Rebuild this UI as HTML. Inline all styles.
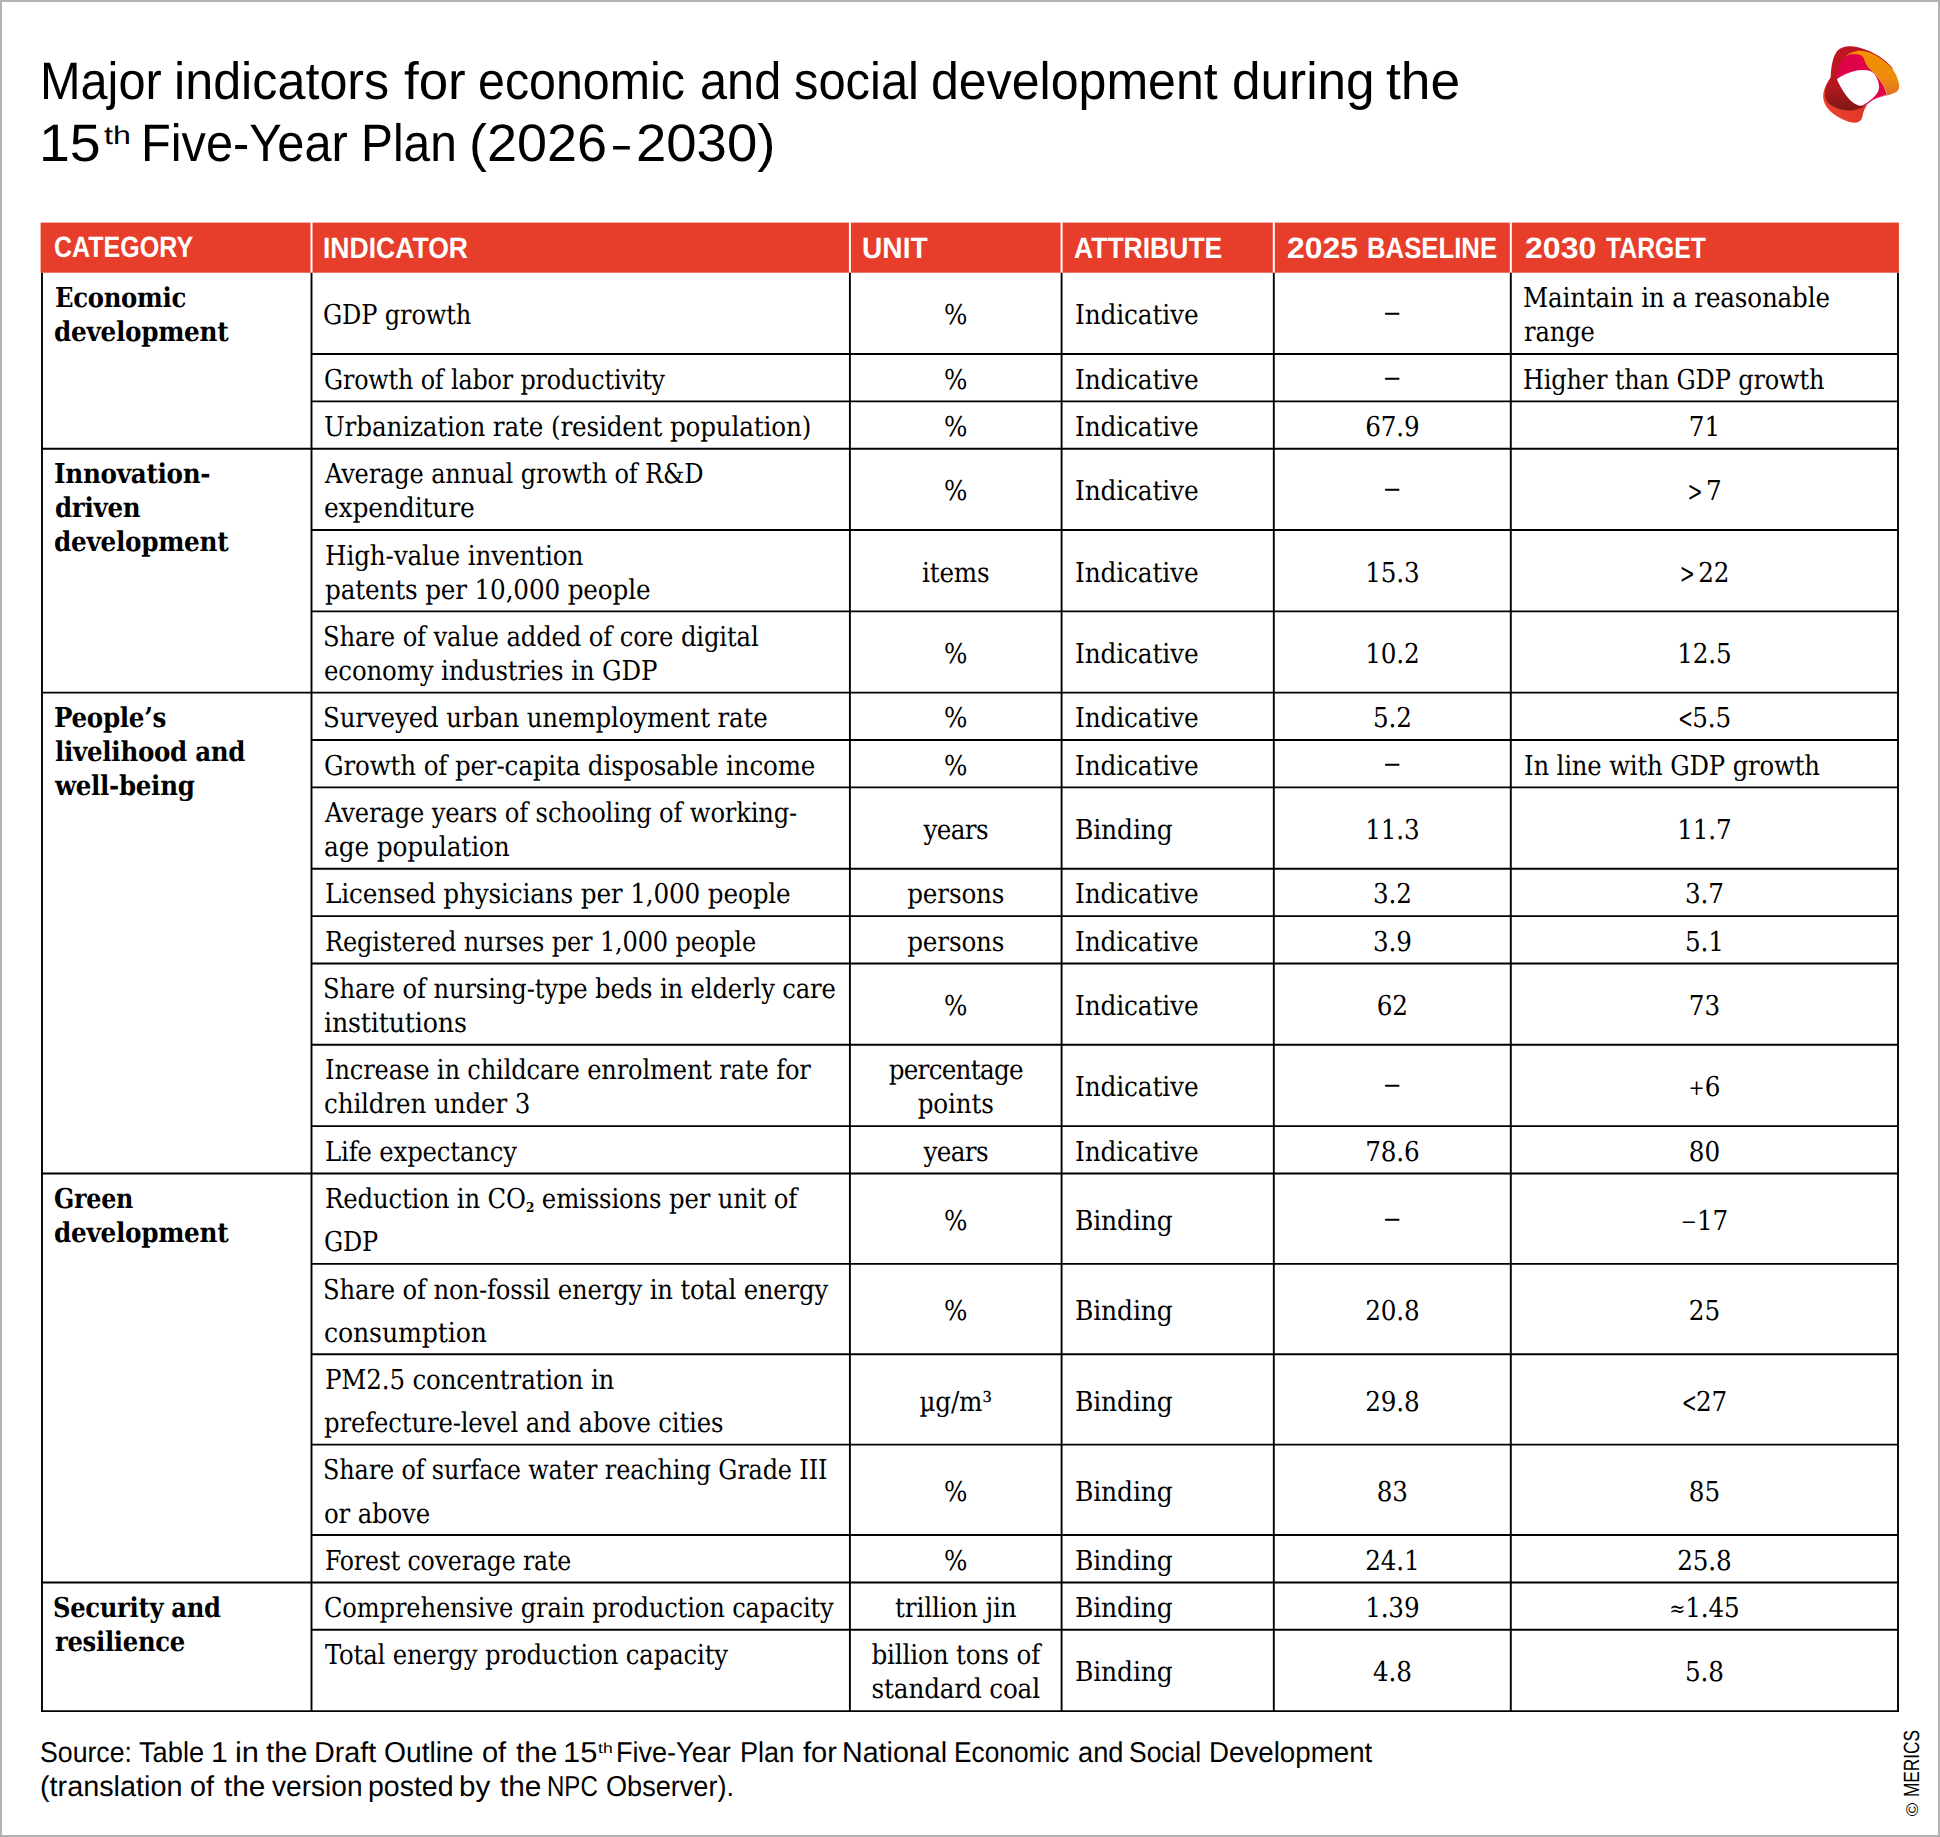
<!DOCTYPE html>
<html lang="en"><head><meta charset="utf-8">
<title>Major indicators for economic and social development during the 15th Five-Year Plan (2026–2030)</title>
<style>
html,body{margin:0;padding:0;background:#fff}
body{width:1940px;height:1837px;position:relative;overflow:hidden;text-rendering:geometricPrecision}
#frame{position:absolute;left:0;top:0;width:1940px;height:1837px;box-sizing:border-box;border:2px solid #b2b2b2}
#lines{position:absolute;left:0;top:0}

.t{position:absolute;white-space:nowrap;font-family:"DejaVu Serif Condensed","DejaVu Serif","Liberation Serif",serif;font-size:27.4px;font-stretch:condensed;line-height:0;letter-spacing:-0.14px;color:#000}
.t{transform-origin:0 0}
.t.c{transform:translateX(-50%)}
.t.b{font-weight:bold;letter-spacing:-0.3px}
.t sub{font-size:13.5px;font-weight:bold;vertical-align:baseline;position:relative;top:4.1px;line-height:0;letter-spacing:0}
.t .sm{font-size:21.5px;position:relative;top:-1.3px}
.t .sg,.t .sl{font-size:21.5px;position:relative;top:-1.2px;display:inline-block;transform:scale(0.93,1.3)}
.t .sg{margin-right:2.5px}
.t .sl{margin-right:-1.7px}
.t .d{display:inline-block;position:relative;top:-2.8px;transform:scaleX(1.4)}
.w{position:absolute;white-space:nowrap;font-family:"Liberation Sans","DejaVu Sans",sans-serif;font-weight:normal;line-height:0;color:#000;transform-origin:0 0}
.w.h{font-weight:bold;font-size:29.4px;color:#fff}
.w.ti{font-size:52.6px}
.w.tis{font-size:25.51px}
.w.s{font-size:28.8px}
.w.ss{font-size:14.40px}

#cr{position:absolute;left:1911.97px;top:1815.6px;white-space:nowrap;font-family:"Liberation Sans","DejaVu Sans",sans-serif;font-size:22.0px;line-height:0;color:#000;transform:rotate(-90deg) scaleX(0.785);transform-origin:0 0}
#cr span{font-size:77%;display:inline-block;transform:scaleX(1.37);margin:0 3.5px 0 2px;position:relative;top:-1px}
#logo{position:absolute;left:1800px;top:30px}
</style></head><body>
<div id="frame"></div>
<svg id="logo" width="120" height="110" viewBox="0 0 1940 1778" role="img" aria-label="MERICS logo">
<defs>
<linearGradient id="gO" x1="0" y1="0" x2="0" y2="1"><stop offset="0" stop-color="#f39200"/><stop offset="0.6" stop-color="#ee8a0c"/><stop offset="1" stop-color="#dd6a2c"/></linearGradient>
<linearGradient id="gD" x1="0" y1="0" x2="0" y2="1"><stop offset="0" stop-color="#bd1722"/><stop offset="0.45" stop-color="#b0181f"/><stop offset="1" stop-color="#7d1714"/></linearGradient>
<linearGradient id="gR" x1="0" y1="0" x2="1" y2="0"><stop offset="0" stop-color="#e8412a"/><stop offset="0.7" stop-color="#e43b29"/><stop offset="1" stop-color="#d62f26"/></linearGradient>
</defs>
<path fill="#be1723" d="M495,770 C505,600 520,450 600,340 C660,275 760,258 830,262 C930,268 1030,300 1130,345 C1260,405 1400,500 1500,620 L1400,760 L900,560 L640,720 L600,800 Z"/>
<path fill="#e0034a" d="M597,792 C598,650 650,480 780,405 C850,372 960,385 1010,425 C1050,470 1040,540 1110,610 C1180,670 1260,760 1330,870 C1370,940 1392,1000 1402,1040 C1340,1078 1250,1095 1180,1130 C1130,1160 1095,1195 1045,1232 L1000,1222 L700,900 Z"/>
<path fill="url(#gO)" d="M722,440 C760,395 830,350 920,338 C1000,330 1080,345 1160,378 C1260,420 1380,505 1470,600 C1540,680 1590,790 1605,900 C1608,950 1580,990 1540,1012 C1480,1045 1400,1062 1340,1076 C1300,1086 1270,1092 1240,1100 C1300,1085 1370,1062 1405,1040 C1395,990 1365,930 1330,870 C1280,790 1220,710 1150,650 C1090,600 1055,545 1040,480 C1030,440 1000,410 950,395 C890,380 830,385 780,405 C755,415 738,428 722,440 Z"/>
<path fill="url(#gR)" d="M495,770 C440,840 395,930 378,1020 C365,1100 385,1180 430,1245 C490,1330 580,1390 670,1435 C740,1468 810,1495 870,1500 C930,1502 975,1480 995,1440 C1012,1400 1015,1350 1035,1300 C1050,1265 1070,1235 1092,1210 C1075,1220 1060,1226 1045,1232 L900,1150 L560,950 Z"/>
<path fill="url(#gD)" d="M495,770 C450,830 410,920 402,1010 C395,1090 420,1150 480,1200 C560,1262 690,1298 800,1300 C880,1300 970,1270 1045,1232 L1000,1222 C960,1225 920,1215 880,1190 C820,1150 770,1090 730,1030 C680,955 630,870 597,792 C590,740 592,700 600,660 L540,650 Z"/>
<path fill="#fff" d="M597,792 C680,735 780,690 880,662 C960,642 1060,640 1140,662 C1200,690 1235,750 1260,820 C1280,880 1285,940 1265,990 C1240,1045 1190,1095 1130,1140 C1090,1170 1050,1200 1000,1222 C960,1228 920,1215 880,1190 C820,1150 770,1090 730,1030 C680,955 630,870 597,792 Z"/>
</svg>

<svg id="lines" width="1940" height="1837" viewBox="0 0 1940 1837">
<rect x="40.6" y="222.6" width="1858.30" height="50.10" fill="#e73e2b"/>
<line x1="311.50" y1="222.10" x2="311.50" y2="272.70" stroke="#fff" stroke-width="2.0"/>
<line x1="849.90" y1="222.10" x2="849.90" y2="272.70" stroke="#fff" stroke-width="2.0"/>
<line x1="1061.60" y1="222.10" x2="1061.60" y2="272.70" stroke="#fff" stroke-width="2.0"/>
<line x1="1273.80" y1="222.10" x2="1273.80" y2="272.70" stroke="#fff" stroke-width="2.0"/>
<line x1="1510.80" y1="222.10" x2="1510.80" y2="272.70" stroke="#fff" stroke-width="2.0"/>
<line x1="42.00" y1="272.70" x2="42.00" y2="1712.07" stroke="#000" stroke-width="1.9"/>
<line x1="311.50" y1="272.70" x2="311.50" y2="1712.07" stroke="#000" stroke-width="1.9"/>
<line x1="849.90" y1="272.70" x2="849.90" y2="1712.07" stroke="#000" stroke-width="1.9"/>
<line x1="1061.60" y1="272.70" x2="1061.60" y2="1712.07" stroke="#000" stroke-width="1.9"/>
<line x1="1273.80" y1="272.70" x2="1273.80" y2="1712.07" stroke="#000" stroke-width="1.9"/>
<line x1="1510.80" y1="272.70" x2="1510.80" y2="1712.07" stroke="#000" stroke-width="1.9"/>
<line x1="1898.00" y1="272.70" x2="1898.00" y2="1712.07" stroke="#000" stroke-width="1.9"/>
<line x1="311.50" y1="354.00" x2="1898.00" y2="354.00" stroke="#000" stroke-width="1.9"/>
<line x1="311.50" y1="401.38" x2="1898.00" y2="401.38" stroke="#000" stroke-width="1.9"/>
<line x1="41.05" y1="448.76" x2="1898.95" y2="448.76" stroke="#000" stroke-width="1.9"/>
<line x1="311.50" y1="530.06" x2="1898.00" y2="530.06" stroke="#000" stroke-width="1.9"/>
<line x1="311.50" y1="611.36" x2="1898.00" y2="611.36" stroke="#000" stroke-width="1.9"/>
<line x1="41.05" y1="692.66" x2="1898.95" y2="692.66" stroke="#000" stroke-width="1.9"/>
<line x1="311.50" y1="740.04" x2="1898.00" y2="740.04" stroke="#000" stroke-width="1.9"/>
<line x1="311.50" y1="787.42" x2="1898.00" y2="787.42" stroke="#000" stroke-width="1.9"/>
<line x1="311.50" y1="868.72" x2="1898.00" y2="868.72" stroke="#000" stroke-width="1.9"/>
<line x1="311.50" y1="916.10" x2="1898.00" y2="916.10" stroke="#000" stroke-width="1.9"/>
<line x1="311.50" y1="963.48" x2="1898.00" y2="963.48" stroke="#000" stroke-width="1.9"/>
<line x1="311.50" y1="1044.78" x2="1898.00" y2="1044.78" stroke="#000" stroke-width="1.9"/>
<line x1="311.50" y1="1126.08" x2="1898.00" y2="1126.08" stroke="#000" stroke-width="1.9"/>
<line x1="41.05" y1="1173.46" x2="1898.95" y2="1173.46" stroke="#000" stroke-width="1.9"/>
<line x1="311.50" y1="1263.86" x2="1898.00" y2="1263.86" stroke="#000" stroke-width="1.9"/>
<line x1="311.50" y1="1354.26" x2="1898.00" y2="1354.26" stroke="#000" stroke-width="1.9"/>
<line x1="311.50" y1="1444.66" x2="1898.00" y2="1444.66" stroke="#000" stroke-width="1.9"/>
<line x1="311.50" y1="1535.06" x2="1898.00" y2="1535.06" stroke="#000" stroke-width="1.9"/>
<line x1="41.05" y1="1582.44" x2="1898.95" y2="1582.44" stroke="#000" stroke-width="1.9"/>
<line x1="311.50" y1="1629.82" x2="1898.00" y2="1629.82" stroke="#000" stroke-width="1.9"/>
<line x1="41.05" y1="1711.12" x2="1898.95" y2="1711.12" stroke="#000" stroke-width="1.9"/>
</svg>
<h1 style="margin:0;font-size:0;line-height:0"><span class="w ti" style="left:40.04px;top:82px;transform:scaleX(0.9253)">Major</span>
<span class="w ti" style="left:174.39px;top:82px;transform:scaleX(0.9563)">indicators</span>
<span class="w ti" style="left:404.25px;top:82px;transform:scaleX(1.0057)">for</span>
<span class="w ti" style="left:478.07px;top:82px;transform:scaleX(0.9189)">economic</span>
<span class="w ti" style="left:699.62px;top:82px;transform:scaleX(0.9253)">and</span>
<span class="w ti" style="left:793.55px;top:82px;transform:scaleX(0.9292)">social</span>
<span class="w ti" style="left:930.74px;top:82px;transform:scaleX(0.9520)">development</span>
<span class="w ti" style="left:1232.09px;top:82px;transform:scaleX(0.9753)">during</span>
<span class="w ti" style="left:1386.36px;top:82px;transform:scaleX(1.0150)">the</span>
<span class="w ti" style="left:38.84px;top:144px;transform:scaleX(1.0545)">15</span>
<span class="w tis" style="left:103.86px;top:136px;transform:scaleX(1.2605)">th</span>
<span class="w ti" style="left:140.99px;top:144px;transform:scaleX(0.9266)">Five-Year</span>
<span class="w ti" style="left:361.06px;top:144px;transform:scaleX(0.9106)">Plan</span>
<span class="w ti" style="left:469.15px;top:144px;transform:scaleX(1.0258)">(2026</span>
<span class="w ti" style="left:613.24px;top:144px;transform:scaleX(0.5743)">–</span>
<span class="w ti" style="left:636.05px;top:144px;transform:scaleX(1.0360)">2030)</span></h1>
<div style="font-size:0;line-height:0"><span class="w h" style="left:54.16px;top:248px;transform:scaleX(0.8519)">CATEGORY</span>
<span class="w h" style="left:323.14px;top:249px;transform:scaleX(0.9028)">INDICATOR</span>
<span class="w h" style="left:862.15px;top:249px;transform:scaleX(0.9572)">UNIT</span>
<span class="w h" style="left:1074.37px;top:249px;transform:scaleX(0.9023)">ATTRIBUTE</span>
<span class="w h" style="left:1287.32px;top:249px;transform:scaleX(1.0842)">2025</span>
<span class="w h" style="left:1366.76px;top:249px;transform:scaleX(0.8756)">BASELINE</span>
<span class="w h" style="left:1524.85px;top:249px;transform:scaleX(1.0910)">2030</span>
<span class="w h" style="left:1606.13px;top:249px;transform:scaleX(0.8427)">TARGET</span></div>
<div class="t c" style="left:955.75px;top:316px">%</div>
<div class="t c" style="left:1392.30px;top:316px"><span class="d">–</span></div>
<div class="t c" style="left:955.75px;top:381px">%</div>
<div class="t c" style="left:1392.30px;top:381px"><span class="d">–</span></div>
<div class="t c" style="left:955.75px;top:428px">%</div>
<div class="t c" style="left:1392.30px;top:428px">67.9</div>
<div class="t c" style="left:1704.40px;top:428px">71</div>
<div class="t c" style="left:955.75px;top:492px">%</div>
<div class="t c" style="left:1392.30px;top:492px"><span class="d">–</span></div>
<div class="t c" style="left:1704.40px;top:492px"><span class="sg">&gt;</span>7</div>
<div class="t c" style="left:955.75px;top:574px">items</div>
<div class="t c" style="left:1392.30px;top:574px">15.3</div>
<div class="t c" style="left:1704.40px;top:574px"><span class="sg">&gt;</span>22</div>
<div class="t c" style="left:955.75px;top:655px">%</div>
<div class="t c" style="left:1392.30px;top:655px">10.2</div>
<div class="t c" style="left:1704.40px;top:655px">12.5</div>
<div class="t c" style="left:955.75px;top:719px">%</div>
<div class="t c" style="left:1392.30px;top:719px">5.2</div>
<div class="t c" style="left:1704.40px;top:719px"><span class="sl">&lt;</span>5.5</div>
<div class="t c" style="left:955.75px;top:767px">%</div>
<div class="t c" style="left:1392.30px;top:767px"><span class="d">–</span></div>
<div class="t c" style="left:955.75px;top:831px"><span style="letter-spacing:-0.6px">years</span></div>
<div class="t c" style="left:1392.30px;top:831px">11.3</div>
<div class="t c" style="left:1704.40px;top:831px">11.7</div>
<div class="t c" style="left:955.75px;top:895px">persons</div>
<div class="t c" style="left:1392.30px;top:895px">3.2</div>
<div class="t c" style="left:1704.40px;top:895px">3.7</div>
<div class="t c" style="left:955.75px;top:943px">persons</div>
<div class="t c" style="left:1392.30px;top:943px">3.9</div>
<div class="t c" style="left:1704.40px;top:943px">5.1</div>
<div class="t c" style="left:955.75px;top:1007px">%</div>
<div class="t c" style="left:1392.30px;top:1007px">62</div>
<div class="t c" style="left:1704.40px;top:1007px">73</div>
<div class="t c" style="left:955.75px;top:1071px"><span style="letter-spacing:-0.72px">percentage</span></div>
<div class="t c" style="left:955.75px;top:1105px">points</div>
<div class="t c" style="left:1392.30px;top:1088px"><span class="d">–</span></div>
<div class="t c" style="left:1704.40px;top:1088px"><span class="sm">+</span>6</div>
<div class="t c" style="left:955.75px;top:1153px"><span style="letter-spacing:-0.6px">years</span></div>
<div class="t c" style="left:1392.30px;top:1153px">78.6</div>
<div class="t c" style="left:1704.40px;top:1153px">80</div>
<div class="t c" style="left:955.75px;top:1222px">%</div>
<div class="t c" style="left:1392.30px;top:1222px"><span class="d">–</span></div>
<div class="t c" style="left:1704.40px;top:1222px"><span class="sm">−</span>17</div>
<div class="t c" style="left:955.75px;top:1312px">%</div>
<div class="t c" style="left:1392.30px;top:1312px">20.8</div>
<div class="t c" style="left:1704.40px;top:1312px">25</div>
<div class="t c" style="left:955.75px;top:1403px">µg/m³</div>
<div class="t c" style="left:1392.30px;top:1403px">29.8</div>
<div class="t c" style="left:1704.40px;top:1403px"><span class="sl">&lt;</span>27</div>
<div class="t c" style="left:955.75px;top:1493px">%</div>
<div class="t c" style="left:1392.30px;top:1493px">83</div>
<div class="t c" style="left:1704.40px;top:1493px">85</div>
<div class="t c" style="left:955.75px;top:1562px">%</div>
<div class="t c" style="left:1392.30px;top:1562px">24.1</div>
<div class="t c" style="left:1704.40px;top:1562px">25.8</div>
<div class="t c" style="left:955.75px;top:1609px">trillion jin</div>
<div class="t c" style="left:1392.30px;top:1609px">1.39</div>
<div class="t c" style="left:1704.40px;top:1609px"><span class="sm">≈</span>1.45</div>
<div class="t c" style="left:955.75px;top:1656px">billion tons of</div>
<div class="t c" style="left:955.75px;top:1690px">standard coal</div>
<div class="t c" style="left:1392.30px;top:1673px">4.8</div>
<div class="t c" style="left:1704.40px;top:1673px">5.8</div>
<div class="t" style="left:323.45px;top:316px;transform:scaleX(0.9763)">GDP growth</div>
<div class="t" style="left:1074.70px;top:316px;transform:scaleX(1.0065)">Indicative</div>
<div class="t" style="left:1522.67px;top:299px;transform:scaleX(0.9965)">Maintain in a reasonable</div>
<div class="t" style="left:1523.51px;top:333px;transform:scaleX(0.9813)">range</div>
<div class="t" style="left:323.53px;top:381px;transform:scaleX(0.9662)">Growth of labor productivity</div>
<div class="t" style="left:1074.70px;top:381px;transform:scaleX(1.0065)">Indicative</div>
<div class="t" style="left:1523.43px;top:381px;transform:scaleX(0.9738)">Higher than GDP growth</div>
<div class="t" style="left:323.68px;top:428px;transform:scaleX(0.9997)">Urbanization rate (resident population)</div>
<div class="t" style="left:1074.70px;top:428px;transform:scaleX(1.0065)">Indicative</div>
<div class="t" style="left:325.15px;top:475px;transform:scaleX(0.9763)">Average annual growth of R&amp;D</div>
<div class="t" style="left:323.97px;top:509px;transform:scaleX(1.0117)">expenditure</div>
<div class="t" style="left:1074.70px;top:492px;transform:scaleX(1.0065)">Indicative</div>
<div class="t" style="left:324.53px;top:557px;transform:scaleX(1.0015)">High-value invention</div>
<div class="t" style="left:324.98px;top:591px;transform:scaleX(1.0009)">patents per 10,000 people</div>
<div class="t" style="left:1074.70px;top:574px;transform:scaleX(1.0065)">Indicative</div>
<div class="t" style="left:322.91px;top:638px;transform:scaleX(0.9857)">Share of value added of core digital</div>
<div class="t" style="left:324.09px;top:672px;transform:scaleX(0.9925)">economy industries in GDP</div>
<div class="t" style="left:1074.70px;top:655px;transform:scaleX(1.0065)">Indicative</div>
<div class="t" style="left:322.82px;top:719px;transform:scaleX(0.9945)">Surveyed urban unemployment rate</div>
<div class="t" style="left:1074.70px;top:719px;transform:scaleX(1.0065)">Indicative</div>
<div class="t" style="left:324.31px;top:767px;transform:scaleX(0.9964)">Growth of per-capita disposable income</div>
<div class="t" style="left:1074.70px;top:767px;transform:scaleX(1.0065)">Indicative</div>
<div class="t" style="left:1523.66px;top:767px;transform:scaleX(0.9865)">In line with GDP growth</div>
<div class="t" style="left:325.15px;top:814px;transform:scaleX(0.9812)">Average years of schooling of working-</div>
<div class="t" style="left:323.99px;top:848px;transform:scaleX(1.0076)">age population</div>
<div class="t" style="left:1074.63px;top:831px;transform:scaleX(1.0143)">Binding</div>
<div class="t" style="left:324.53px;top:895px;transform:scaleX(1.0017)">Licensed physicians per 1,000 people</div>
<div class="t" style="left:1074.70px;top:895px;transform:scaleX(1.0065)">Indicative</div>
<div class="t" style="left:324.70px;top:943px;transform:scaleX(0.9751)">Registered nurses per 1,000 people</div>
<div class="t" style="left:1074.70px;top:943px;transform:scaleX(1.0065)">Indicative</div>
<div class="t" style="left:322.91px;top:990px;transform:scaleX(0.9846)">Share of nursing-type beds in elderly care</div>
<div class="t" style="left:323.98px;top:1024px;transform:scaleX(1.0242)">institutions</div>
<div class="t" style="left:1074.70px;top:1007px;transform:scaleX(1.0065)">Indicative</div>
<div class="t" style="left:324.68px;top:1071px;transform:scaleX(0.9787)">Increase in childcare enrolment rate for</div>
<div class="t" style="left:324.02px;top:1105px;transform:scaleX(0.9994)">children under 3</div>
<div class="t" style="left:1074.70px;top:1088px;transform:scaleX(1.0065)">Indicative</div>
<div class="t" style="left:324.62px;top:1153px;transform:scaleX(0.9869)">Life expectancy</div>
<div class="t" style="left:1074.70px;top:1153px;transform:scaleX(1.0065)">Indicative</div>
<div class="t" style="left:324.66px;top:1200px;transform:scaleX(0.9877)">Reduction in CO<sub>2</sub> emissions per unit of</div>
<div class="t" style="left:323.51px;top:1243px;transform:scaleX(0.9728)">GDP</div>
<div class="t" style="left:1074.63px;top:1222px;transform:scaleX(1.0143)">Binding</div>
<div class="t" style="left:322.95px;top:1291px;transform:scaleX(0.9851)">Share of non-fossil energy in total energy</div>
<div class="t" style="left:323.93px;top:1334px;transform:scaleX(1.0234)">consumption</div>
<div class="t" style="left:1074.63px;top:1312px;transform:scaleX(1.0143)">Binding</div>
<div class="t" style="left:324.63px;top:1381px;transform:scaleX(0.9941)">PM2.5 concentration in</div>
<div class="t" style="left:324.09px;top:1424px;transform:scaleX(0.9869)">prefecture-level and above cities</div>
<div class="t" style="left:1074.63px;top:1403px;transform:scaleX(1.0143)">Binding</div>
<div class="t" style="left:323.12px;top:1471px;transform:scaleX(0.9708)">Share of surface water reaching Grade III</div>
<div class="t" style="left:324.17px;top:1515px;transform:scaleX(0.9893)">or above</div>
<div class="t" style="left:1074.63px;top:1493px;transform:scaleX(1.0143)">Binding</div>
<div class="t" style="left:324.86px;top:1562px;transform:scaleX(0.9574)">Forest coverage rate</div>
<div class="t" style="left:1074.63px;top:1562px;transform:scaleX(1.0143)">Binding</div>
<div class="t" style="left:323.54px;top:1609px;transform:scaleX(0.9813)">Comprehensive grain production capacity</div>
<div class="t" style="left:1074.63px;top:1609px;transform:scaleX(1.0143)">Binding</div>
<div class="t" style="left:325.20px;top:1656px;transform:scaleX(0.9879)">Total energy production capacity</div>
<div class="t" style="left:1074.63px;top:1673px;transform:scaleX(1.0143)">Binding</div>
<div class="t b" style="left:54.67px;top:298px;transform:scaleX(0.9872)">Economic</div>
<div class="t b" style="left:54.48px;top:332px;transform:scaleX(1.0035)">development</div>
<div class="t b" style="left:54.03px;top:474px;transform:scaleX(1.0011)">Innovation-</div>
<div class="t b" style="left:54.57px;top:508px;transform:scaleX(0.9952)">driven</div>
<div class="t b" style="left:54.48px;top:542px;transform:scaleX(1.0035)">development</div>
<div class="t b" style="left:54.05px;top:718px;transform:scaleX(0.9976)">People’s</div>
<div class="t b" style="left:54.74px;top:752px;transform:scaleX(0.9961)">livelihood and</div>
<div class="t b" style="left:54.96px;top:786px;transform:scaleX(0.9946)">well-being</div>
<div class="t b" style="left:53.70px;top:1199px;transform:scaleX(0.9657)">Green</div>
<div class="t b" style="left:54.48px;top:1233px;transform:scaleX(1.0035)">development</div>
<div class="t b" style="left:52.73px;top:1608px;transform:scaleX(0.9831)">Security and</div>
<div class="t b" style="left:54.51px;top:1642px;transform:scaleX(0.9844)">resilience</div>
<p style="margin:0;font-size:0;line-height:0"><span class="w s" style="left:40.02px;top:1753px;transform:scaleX(0.9264)">Source:</span>
<span class="w s" style="left:138.50px;top:1753px;transform:scaleX(0.9454)">Table</span>
<span class="w s" style="left:210.85px;top:1753px;transform:scaleX(1.0484)">1</span>
<span class="w s" style="left:234.76px;top:1753px;transform:scaleX(1.0705)">in</span>
<span class="w s" style="left:266.30px;top:1753px;transform:scaleX(1.0347)">the</span>
<span class="w s" style="left:313.78px;top:1753px;transform:scaleX(0.9967)">Draft</span>
<span class="w s" style="left:383.95px;top:1753px;transform:scaleX(0.9795)">Outline</span>
<span class="w s" style="left:481.77px;top:1753px;transform:scaleX(1.0066)">of</span>
<span class="w s" style="left:515.69px;top:1753px;transform:scaleX(1.0347)">the</span>
<span class="w s" style="left:562.79px;top:1753px;transform:scaleX(1.0736)">15</span>
<span class="w ss" style="left:598.00px;top:1749px;transform:scaleX(1.2222)">th</span>
<span class="w s" style="left:616.23px;top:1753px;transform:scaleX(0.9393)">Five-Year</span>
<span class="w s" style="left:739.85px;top:1753px;transform:scaleX(0.9404)">Plan</span>
<span class="w s" style="left:802.86px;top:1753px;transform:scaleX(1.0082)">for</span>
<span class="w s" style="left:842.25px;top:1753px;transform:scaleX(0.9940)">National</span>
<span class="w s" style="left:954.12px;top:1753px;transform:scaleX(0.9127)">Economic</span>
<span class="w s" style="left:1078.35px;top:1753px;transform:scaleX(0.9466)">and</span>
<span class="w s" style="left:1129.48px;top:1753px;transform:scaleX(0.9189)">Social</span>
<span class="w s" style="left:1209.48px;top:1753px;transform:scaleX(0.9624)">Development</span>
<span class="w s" style="left:40.40px;top:1787px;transform:scaleX(1.0002)">(translation</span>
<span class="w s" style="left:190.34px;top:1787px;transform:scaleX(0.9991)">of</span>
<span class="w s" style="left:223.73px;top:1787px;transform:scaleX(1.0347)">the</span>
<span class="w s" style="left:271.67px;top:1787px;transform:scaleX(0.9759)">version</span>
<span class="w s" style="left:368.16px;top:1787px;transform:scaleX(0.9894)">posted</span>
<span class="w s" style="left:459.46px;top:1787px;transform:scaleX(1.0274)">by</span>
<span class="w s" style="left:499.65px;top:1787px;transform:scaleX(1.0344)">the</span>
<span class="w s" style="left:547.11px;top:1787px;transform:scaleX(0.8353)">NPC</span>
<span class="w s" style="left:605.85px;top:1787px;transform:scaleX(0.9412)">Observer).</span></p>
<div id="cr"><span>©</span> MERICS</div>
</body></html>
